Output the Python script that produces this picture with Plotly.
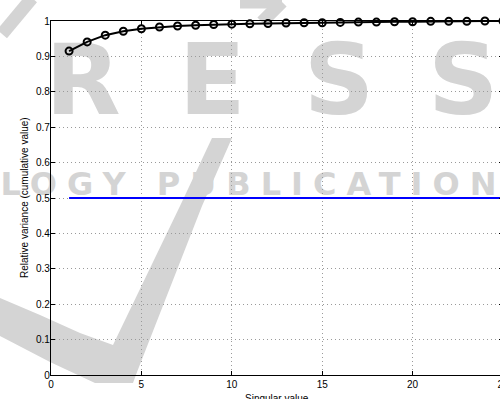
import plotly.graph_objects as go

# Cumulative relative variance of the singular values
singular_index = list(range(1, 26))
cumulative_variance = [0.915, 0.941, 0.960, 0.971, 0.978, 0.983, 0.986, 0.988,
                       0.990, 0.991, 0.992, 0.993, 0.994, 0.995, 0.995, 0.996,
                       0.997, 0.997, 0.998, 0.998, 0.999, 0.999, 0.999, 1.000,
                       1.000]

# Threshold level
threshold_x = [1, 25]
threshold_y = [0.5, 0.5]

x_ticks = [0, 5, 10, 15, 20, 25]
y_ticks = [0, 0.1, 0.2, 0.3, 0.4, 0.5, 0.6, 0.7, 0.8, 0.9, 1]
y_tick_text = ["0", "0.1", "0.2", "0.3", "0.4", "0.5", "0.6", "0.7", "0.8", "0.9", "1"]

x_title = "Singular value"
y_title = "Relative variance (cumulative value)"

W, H = 510, 399
L, R, T, B = 51, 7, 21, 24
PW, PH = W - L - R, H - T - B

def px(x):
    return (x - L) / PW

def py(y):
    return (H - B - y) / PH

WM = "#d4d4d4"
GRID = "#9a9a9a"

fig = go.Figure()

fig.add_trace(go.Scatter(
    x=threshold_x, y=threshold_y, mode="lines",
    line=dict(color="#0000ff", width=2), cliponaxis=False, showlegend=False))

fig.add_trace(go.Scatter(
    x=singular_index, y=cumulative_variance, mode="lines+markers",
    line=dict(color="black", width=2),
    marker=dict(symbol="circle-open", size=7, color="black", line=dict(width=2)),
    cliponaxis=False, showlegend=False))

shapes = []

# background publisher mark: swoosh
sw = [(0, 298), (40, 315), (80, 333), (113, 345), (180, 206), (212, 138),
      (232, 138), (202, 206), (137, 372), (133, 383), (95, 383), (50, 362), (0, 336)]
path = "M " + " L ".join(f"{px(a):.4f},{py(b):.4f}" for a, b in sw) + " Z"
shapes.append(dict(type="path", path=path, xref="paper", yref="paper",
                   fillcolor=WM, line=dict(width=0), layer="below"))
for (a, b), (c, d) in [((32, -2), (2, 34)), ((240, 2), (282, 2)), ((282, 2), (262, 22))]:
    shapes.append(dict(type="line", x0=px(a), y0=py(b), x1=px(c), y1=py(d),
                       xref="paper", yref="paper", line=dict(color=WM, width=13),
                       layer="below"))

# background publisher mark: lettering
def word(text, xcen, ycen, size, spacing):
    return dict(type="rect", xref="paper", yref="paper",
                x0=px(xcen - 1), x1=px(xcen + 1), y0=py(ycen + 1), y1=py(ycen - 1),
                line=dict(width=0), fillcolor="rgba(0,0,0,0)", layer="below",
                label=dict(text=f'<b><span style="letter-spacing:{spacing}px">{text}</span></b>',
                           font=dict(family="DejaVu Sans", size=size, color=WM),
                           textposition="middle center"))

shapes.append(word("PRESS", 236, 73, 98, 58))
shapes.append(word("TECHNOLOGY PUBLICATIONS", 166, 182, 32, 10))

axis_common = dict(ticks="inside", ticklen=4, tickcolor="black", showline=True,
                   linecolor="black", linewidth=1.3, mirror="ticks", showgrid=True,
                   gridcolor=GRID, griddash="1px,3px", gridwidth=1, zeroline=False,
                   automargin=False)

annotations = [
    dict(text=x_title, xref="paper", yref="paper", x=px((L + W - R) / 2), y=py(391),
         xanchor="center", yanchor="top", showarrow=False,
         font=dict(size=10, color="black")),
    dict(text=y_title, xref="paper", yref="paper", x=px(24), y=py(198),
         xanchor="center", yanchor="middle", textangle=-90, showarrow=False,
         font=dict(size=10, color="black")),
]

fig.update_layout(
    width=W, height=H, autosize=False,
    margin=dict(l=L, r=R, t=T, b=B, pad=0),
    paper_bgcolor="white", plot_bgcolor="white",
    font=dict(family="Liberation Sans, Arial, sans-serif", size=10, color="black"),
    shapes=shapes, annotations=annotations,
    xaxis=dict(range=[0, 25], tickvals=x_ticks, **axis_common),
    yaxis=dict(range=[0, 1], tickvals=y_ticks, ticktext=y_tick_text,
               ticklabelstandoff=-2, **axis_common),
)

fig.write_html("out.html", config={"displayModeBar": False})
